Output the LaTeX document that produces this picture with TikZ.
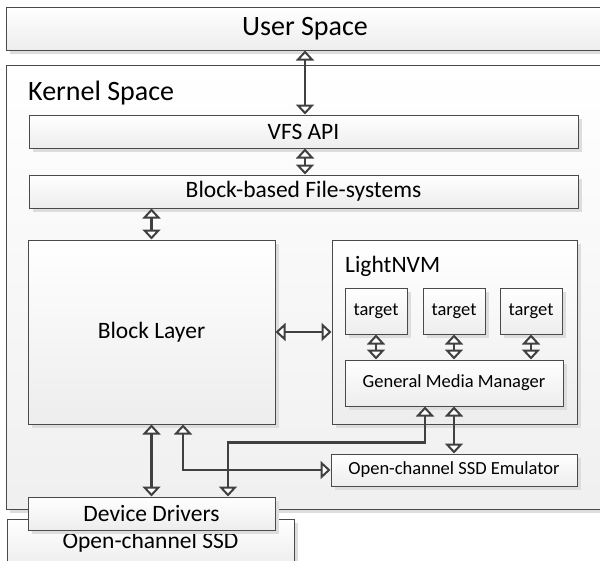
\documentclass[tikz,border=0pt]{standalone}
\usepackage{fontspec}
\setmainfont{Carlito}
\usetikzlibrary{arrows.meta,shadows,calc}
\definecolor{edgec}{HTML}{4A4A4A}
\definecolor{arrc}{HTML}{404040}
\definecolor{shadec}{HTML}{EDEDED}
\definecolor{shadowc}{HTML}{DDDDDD}
\tikzset{
  box/.style={draw=edgec, line width=1pt, top color=white, bottom color=shadec,
    inner sep=0pt, align=center,
    general shadow={fill=shadowc, shadow xshift=3.5pt, shadow yshift=-3.5pt}},
  bigf/.style={font=\fontsize{28}{32}\selectfont},
  normf/.style={font=\fontsize{23.5}{28}\selectfont},
  smallf/.style={font=\fontsize{18.5}{22}\selectfont},
  conn/.style={draw=arrc, line width=2.7pt,
    {Triangle[length=10pt 0 0,width=18pt 0 0,fill=white,line width=2pt 0]}-{Triangle[length=10pt 0 0,width=18pt 0 0,fill=white,line width=2pt 0]}},
}
\begin{document}
\begin{tikzpicture}[x=1pt,y=-1pt]
\useasboundingbox[fill=white] (0,0) rectangle (600,560);
% outer boxes
\node[box, bigf, minimum width=598pt, minimum height=43pt] (user) at (305,28.5) {User Space};
\node[box, normf, minimum width=287pt, minimum height=47pt] (ssd) at (150.5,542.5) {Open-channel SSD};
\node[box, minimum width=610pt, minimum height=444pt, bottom color=shadec!85!white] (kernel) at (311,287) {};
\node[bigf, anchor=base west, inner sep=0pt] (klabel) at (28,100) {Kernel Space};
% kernel content
\node[box, normf, minimum width=549pt, minimum height=33pt] (vfs) at (303.5,131.5) {VFS API};
\node[box, normf, minimum width=549pt, minimum height=33pt] (bbfs) at (303.5,191.5) {Block-based File-systems};
\node[box, normf, minimum width=247pt, minimum height=184pt] (block) at (151.5,332) {Block Layer};
\node[box, minimum width=245pt, minimum height=184pt] (lnvm) at (454.5,332) {};
\node[normf, anchor=base west, inner sep=0pt] (llabel) at (345,272) {LightNVM};
\node[box, smallf, minimum width=62pt, minimum height=46pt] (t1) at (376,311) {target};
\node[box, smallf, minimum width=62pt, minimum height=46pt] (t2) at (454,311) {target};
\node[box, smallf, minimum width=62pt, minimum height=46pt] (t3) at (531,311) {target};
\node[box, smallf, minimum width=218pt, minimum height=46pt] (gmm) at (454,383) {General Media Manager};
\node[box, smallf, minimum width=246pt, minimum height=32pt] (emu) at (454,470) {Open-channel SSD Emulator};
\node[box, normf, minimum width=247pt, minimum height=33pt] (dd) at (151.5,513.5) {Device Drivers};
% connectors
\draw[conn] (user.south) -- (user.south |- vfs.north);
\draw[conn] (user.south |- vfs.south) -- (user.south |- bbfs.north);
\draw[conn] (block.north |- bbfs.south) -- (block.north);
\draw[conn] (block.east) -- (lnvm.west);
\draw[conn] (t1.south) -- (t1.south |- gmm.north);
\draw[conn] (t2.south) -- (t2.south |- gmm.north);
\draw[conn] (t3.south) -- (t3.south |- gmm.north);
\draw[conn] (block.south) -- (dd.north);
\draw[conn] ([xshift=31.5pt]block.south) |- (emu.west);
\draw[conn] ([xshift=76.5pt]dd.north) |- ([xshift=-29pt,yshift=-36pt]gmm.south) -- ([xshift=-29pt]gmm.south);
\draw[conn] (gmm.south) -- (emu.north);
\end{tikzpicture}
\end{document}
